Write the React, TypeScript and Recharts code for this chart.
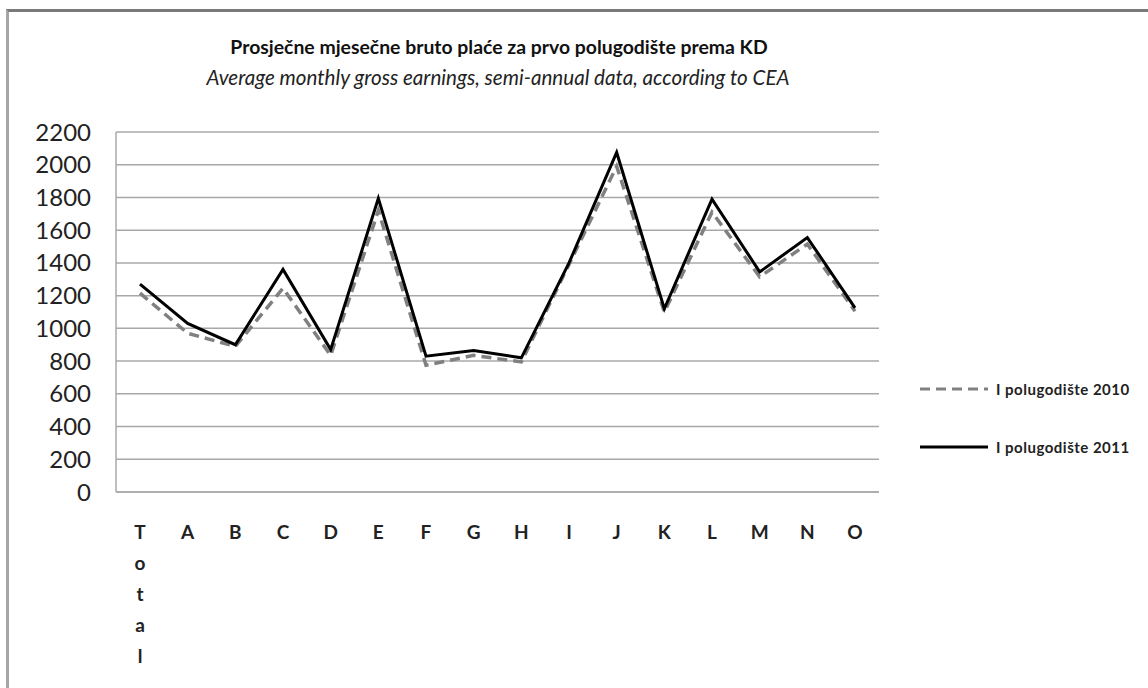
import React from "react";
import {
  LineChart,
  Line,
  XAxis,
  YAxis,
  CartesianGrid,
  Legend,
} from "recharts";

const categories = ["Total", "A", "B", "C", "D", "E", "F", "G", "H", "I", "J", "K", "L", "M", "N", "O"];
const earnings2010 = [1215, 970, 890, 1245, 835, 1720, 775, 835, 795, 1390, 1990, 1100, 1710, 1315, 1515, 1105];
const earnings2011 = [1270, 1030, 900, 1360, 870, 1795, 830, 865, 820, 1400, 2075, 1120, 1790, 1345, 1555, 1125];
const yTicks = [0, 200, 400, 600, 800, 1000, 1200, 1400, 1600, 1800, 2000, 2200];
const boundaryTicks = categories.map((_, i) => i).concat([categories.length]);

const data = categories.map((cat, i) => ({
  cat,
  h2010: earnings2010[i],
  h2011: earnings2011[i],
}));

const FONT = "Lato, 'Open Sans', sans-serif";

// Excel wraps the long label one letter per line
const CategoryTick = (props: any) => {
  const { x, y, payload } = props;
  const label: string = payload.value;
  const chars = label.length > 1 ? label.split("") : [label];
  return (
    <text
      x={x}
      y={y}
      textAnchor="middle"
      fontFamily={FONT}
      fontWeight={700}
      fontSize={19}
      fill="#222"
    >
      {chars.map((c, i) => (
        <tspan key={i} x={x} dy={i === 0 ? 33 : 31}>
          {c}
        </tspan>
      ))}
    </text>
  );
};

const LegendContent = (props: any) => {
  const { payload } = props;
  return (
    <div style={{ fontFamily: FONT }}>
      {(payload || []).map((entry: any, i: number) => (
        <div
          key={i}
          style={{ display: "flex", alignItems: "center", height: 58 }}
        >
          <svg width={72} height={10}>
            <line
              x1={2}
              y1={5}
              x2={70}
              y2={5}
              stroke={entry.payload.stroke}
              strokeWidth={3}
              strokeDasharray={entry.payload.strokeDasharray}
            />
          </svg>
          <span
            style={{
              marginLeft: 6,
              fontSize: 15,
              fontWeight: 700,
              color: "#222",
              letterSpacing: 0.5,
            }}
          >
            {entry.value}
          </span>
        </div>
      ))}
    </div>
  );
};

export default function App() {
  return (
    <div
      style={{
        position: "fixed",
        left: 0,
        top: 0,
        width: 1148,
        height: 688,
        overflow: "hidden",
        background: "#fff",
      }}
    >
      <div
        style={{
          position: "absolute",
          left: 6,
          top: 9,
          width: 1300,
          height: 900,
          borderLeft: "3px solid #a6a6a6",
          borderTop: "3px solid #7a7a7a",
        }}
      />
      <div
        style={{
          position: "absolute",
          left: 0,
          width: 998,
          top: 35,
          textAlign: "center",
          fontFamily: FONT,
          fontWeight: 700,
          fontSize: 19.4,
          color: "#111",
        }}
      >
        Prosječne mjesečne bruto plaće za prvo polugodište prema KD
      </div>
      <div
        style={{
          position: "absolute",
          left: 0,
          width: 996,
          top: 65,
          textAlign: "center",
          fontFamily: FONT,
          fontStyle: "italic",
          fontSize: 20.6,
          color: "#222",
        }}
      >
        Average monthly gross earnings, semi-annual data, according to CEA
      </div>
      <div style={{ position: "absolute", left: 0, top: 0 }}>
        <LineChart
          width={1148}
          height={688}
          data={data}
          margin={{ top: 132, right: 269, left: 56, bottom: 0 }}
        >
          <CartesianGrid
            xAxisId="cat"
            vertical={false}
            stroke="#a8a8a8"
            strokeWidth={1.5}
          />
          <XAxis
            xAxisId="b"
            type="number"
            domain={[0, categories.length]}
            ticks={boundaryTicks}
            tick={false}
            tickSize={5}
            height={6}
            axisLine={{ stroke: "#a8a8a8", strokeWidth: 1.5 }}
            tickLine={{ stroke: "#a8a8a8" }}
          />
          <XAxis
            xAxisId="cat"
            dataKey="cat"
            interval={0}
            padding={{ left: 24, right: 24 }}
            axisLine={false}
            tickLine={false}
            height={190}
            tick={<CategoryTick />}
          />
          <YAxis
            width={60}
            domain={[0, 2200]}
            ticks={yTicks}
            interval={0}
            tickLine={false}
            tickSize={0}
            tickMargin={25}
            axisLine={{ stroke: "#a8a8a8", strokeWidth: 1.5 }}
            tick={{ fontFamily: FONT, fontSize: 24, fill: "#222" }}
          />
          <Legend
            layout="horizontal"
            verticalAlign="middle"
            align="center"
            wrapperStyle={{ left: 918, top: 360, width: 230 }}
            content={<LegendContent />}
          />
          <Line
            xAxisId="cat"
            type="linear"
            dataKey="h2010"
            name="I polugodište 2010"
            stroke="#808080"
            strokeWidth={3.5}
            strokeDasharray="10 6"
            dot={false}
            isAnimationActive={false}
          />
          <Line
            xAxisId="cat"
            type="linear"
            dataKey="h2011"
            name="I polugodište 2011"
            stroke="#000"
            strokeWidth={3}
            dot={false}
            isAnimationActive={false}
          />
        </LineChart>
      </div>
    </div>
  );
}
